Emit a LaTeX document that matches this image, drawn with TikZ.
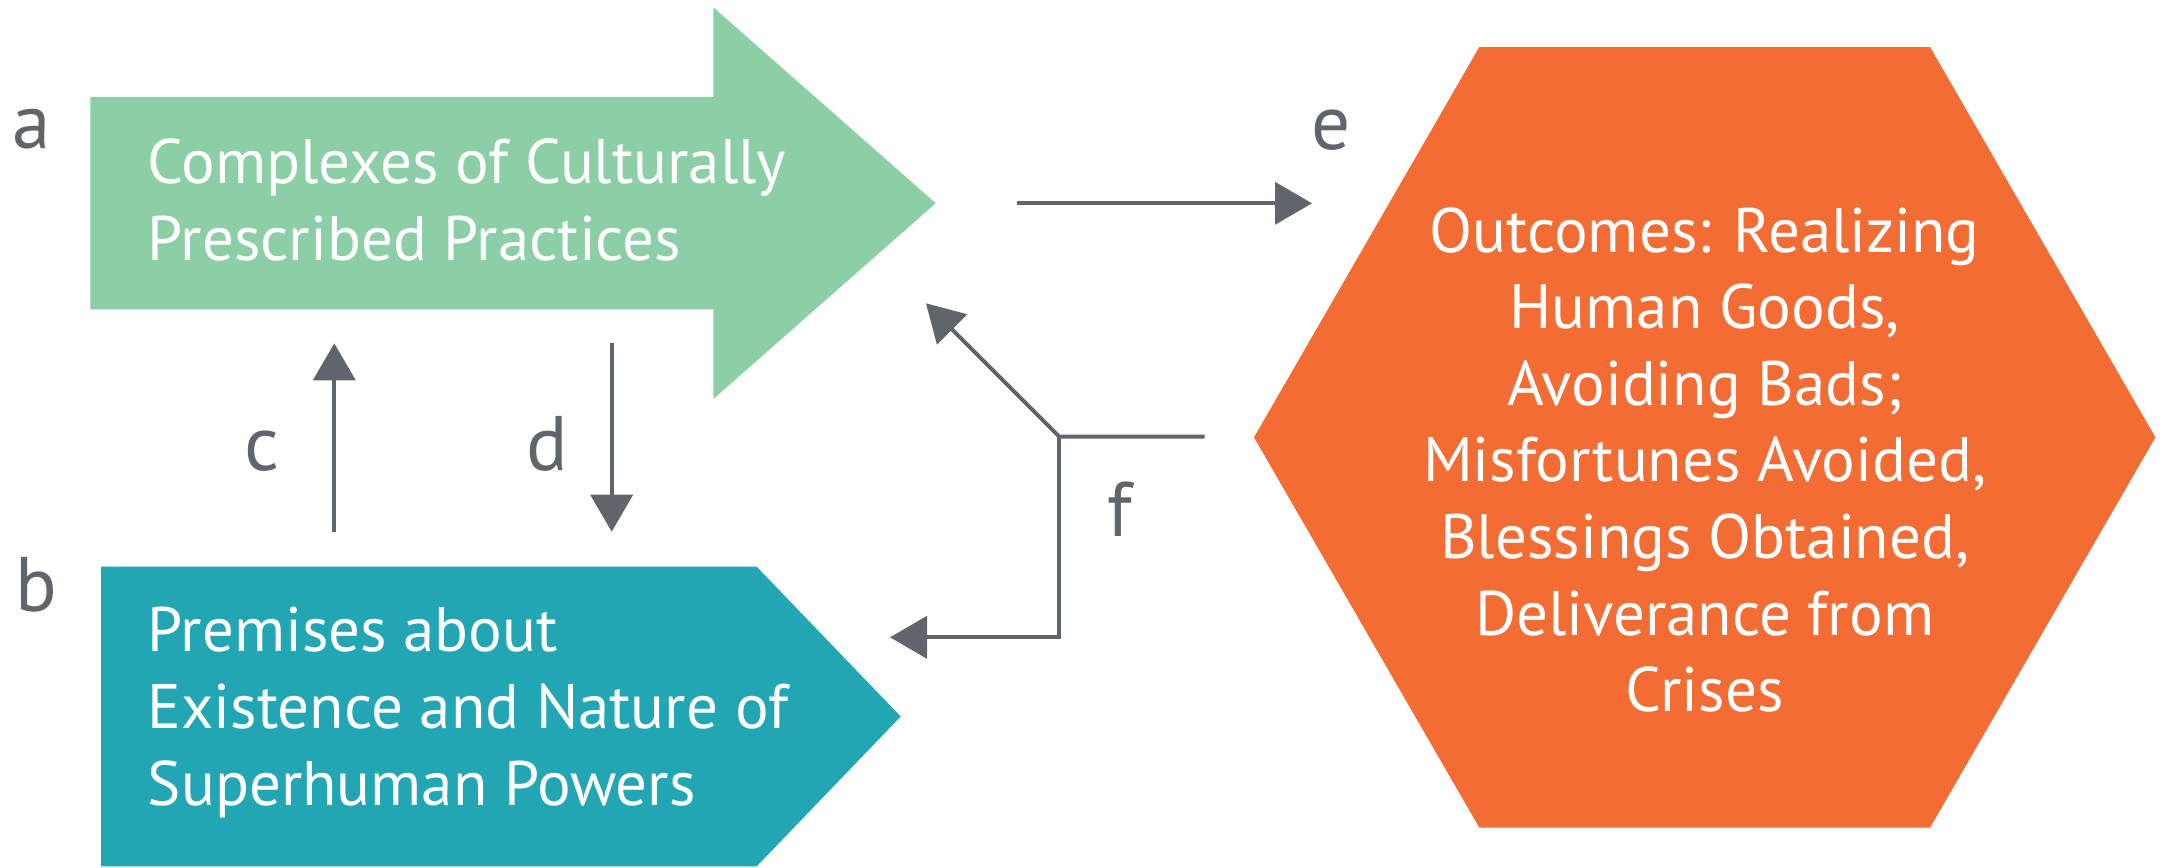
\documentclass[tikz,border=0pt]{standalone}
\usepackage{fontspec}
\setmainfont{PT Sans}
\usetikzlibrary{positioning}
\usetikzlibrary{arrows.meta, calc}
\definecolor{ritegreen}{RGB}{140,206,166}
\definecolor{riteteal}{RGB}{35,166,180}
\definecolor{riteorange}{RGB}{242,108,52}
\definecolor{linkgray}{RGB}{96,101,108}

\begin{document}
\begin{tikzpicture}[>={Triangle[length=3.7mm,width=4.2mm]}, x=0.1mm, y=-0.1mm]%
            \tikzstyle{txt} = [text = white, inner sep = 0pt, align = left, anchor = base west, font = \fontsize{17.9}{21.8}\selectfont]
            \tikzstyle{ctr} = [txt, align = center, anchor = base]
            \tikzstyle{lbl} = [text = linkgray, inner sep = 0pt, anchor = base, font = \fontsize{22}{26}\selectfont]
            \tikzstyle{link} = [->, draw = linkgray, line width = 0.4mm]
            \useasboundingbox (0,0) rectangle (2165,867);
        %%
            %% Shapes
            \fill[ritegreen] (90.3,97) -- (713.3,97) -- (713.3,7.3) -- (935.7,203.2) -- (713.3,399) -- (713.3,309.3) -- (90.3,309.3) -- cycle;
            \fill[riteteal] (101,566.7) -- (756.7,566.7) -- (900.7,716.5) -- (756.7,866.3) -- (101,866.3) -- cycle;
            \fill[riteorange] (1254,437.3) -- (1479.3,47) -- (1930,47) -- (2155.4,437.3) -- (1930,827.7) -- (1479.3,827.7) -- cycle;

            %% Texts (anchored on the baseline of their last line)
            \node [txt] (practices) at (147,260) {Complexes of Culturally\\Prescribed Practices};
            \node [txt] (premises) at (147,805) {Premises about\\Existence and Nature of\\Superhuman Powers};
            \node [ctr] (outcomes) at (1704.7,711.7) {Outcomes: Realizing\\Human Goods,\\Avoiding Bads;\\Misfortunes Avoided,\\Blessings Obtained,\\Deliverance from\\Crises};

            %% Labels
            \node [lbl] (la) at (31.3,148.3) {a};
            \node [lbl] (lb) at (36,611.7) {b};
            \node [lbl] (lc) at (262,470) {c};
            \node [lbl] (ld) at (547,470) {d};
            \node [lbl] (le) at (1331.3,149) {e};
            \node [lbl] (lf) at (1119.5,536.7) {f};

            %% Connectors
            \coordinate (e_tail) at (1016.7,203.3);
            \coordinate (e_tip) at (1312,203.3);
            \coordinate (c_tail) at (334.3,531.7);
            \coordinate (c_tip) at (334.3,343.3);
            \coordinate (d_tail) at (611.7,343.3);
            \coordinate (d_tip) at (611.7,531.7);
            \coordinate (f_tail) at (1204.7,436.7);
            \coordinate (f_join) at (1059.3,436.7);
            \coordinate (f_up) at (926,303.3);
            \coordinate (f_bend) at (1059.3,637.3);
            \coordinate (f_down) at (890,637.3);

            \draw[link] (e_tail) -- (e_tip);
            \draw[link] (c_tail) -- (c_tip);
            \draw[link] (d_tail) -- (d_tip);
            \draw[link] (f_tail) -- (f_join) -- (f_up);
            \draw[link] (f_join) -- (f_bend) -- (f_down);
        \end{tikzpicture}
\end{document}
